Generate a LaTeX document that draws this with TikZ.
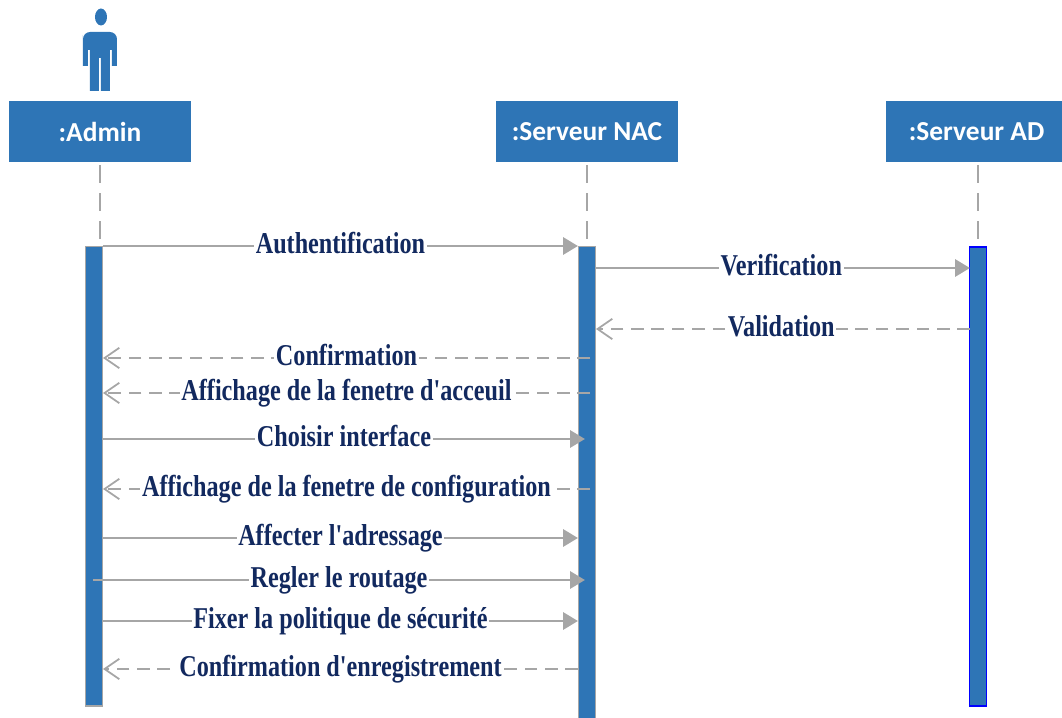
\documentclass[tikz,border=0pt]{standalone}
\usepackage{fontspec}
\usetikzlibrary{arrows.meta}
\setmainfont{Liberation Serif}
\newfontfamily\headfont{Carlito}
\newfontfamily\msgfont[FakeStretch=0.8]{Liberation Serif}
\definecolor{umlblue}{HTML}{2E75B6}
\definecolor{umlgray}{HTML}{A6A6A6}
\definecolor{umlnavy}{HTML}{12295F}
\tikzset{
	head/.style={fill=umlblue,text=white,inner sep=0,font=\headfont\bfseries\fontsize{7.8}{9}\selectfont,minimum height=0.6cm},
	bar/.style={fill=umlblue,draw=umlgray,line width=0.4pt,inner sep=0,minimum width=0.17cm,anchor=north},
	life/.style={draw=umlgray,line width=0.5pt,dash pattern=on 5pt off 3pt},
	call/.style={draw=umlgray,line width=0.8pt,-{Triangle[length=4.2pt,width=4.8pt]}},
	back/.style={draw=umlgray,line width=0.7pt,dash pattern=on 3.6pt off 2.2pt,-{Straight Barb[length=4.2pt,width=5.8pt,line width=0.5pt]}},
	msg/.style={midway,fill=white,inner xsep=0.5pt,inner ysep=0,text height=6.5pt,text depth=2pt,text=umlnavy,font=\msgfont\bfseries\fontsize{8.6}{9}\selectfont}
}
\begin{document}
\begin{tikzpicture}[x=0.01cm,y=-0.01cm]
	\useasboundingbox (0,0) rectangle (1062,718);
	% actor
	\fill[umlblue] (101,17) ellipse (6 and 8.5);
	\fill[umlblue] (83,66) -- (83,35) [rounded corners=2] -- (83,32) -- (117,32) [sharp corners] -- (117,66) -- (112,66) -- (112,50) -- (110,50) -- (110,91) -- (101,91) -- (101,58) -- (99,58) -- (99,91) -- (90,91) -- (90,50) -- (88,50) -- (88,66) -- cycle;
	% headers
	\node[head,minimum width=1.82cm] (admin) at (100,131.5) {:Admin};
	\node[head,minimum width=1.82cm] (nac) at (587,131.5) {:Serveur NAC};
	\node[head,minimum width=1.76cm] (ad) at (974,131.5) {\hspace*{1.5pt}:Serveur AD};
	% activation bars
	\node[bar,minimum height=4.59cm] (adminbar) at (94,246) {};
	\node[bar,minimum height=4.74cm] (nacbar) at (587,246) {};
	\node[bar,minimum height=4.59cm,draw=blue,line width=0.45pt] (adbar) at (978,246) {};
	% lifelines
	\draw[life] (admin.south) ++(0,3) coordinate (adminl) (adminl) -- (adminl |- adminbar.north);
	\draw[life] (nac.south) ++(0,3) coordinate (nacl) (nacl) -- (nacl |- nacbar.north);
	\draw[life] (978,165) coordinate (adl) (adl) -- (adl |- adbar.north);
	% end points of the messages
	\coordinate (a1) at (103,246); \coordinate (n1) at (578,246);
	\coordinate (n2) at (596,268); \coordinate (d2) at (970,268);
	\coordinate (d3) at (970,329); \coordinate (n3) at (596,329);
	\coordinate (n4) at (590,358); \coordinate (a4) at (103,358);
	\coordinate (n5) at (590,393); \coordinate (a5) at (103,393);
	\coordinate (a6) at (103,439); \coordinate (n6) at (585,439);
	\coordinate (n7) at (590,489); \coordinate (a7) at (103,489);
	\coordinate (a8) at (103,538); \coordinate (n8) at (578,538);
	\coordinate (a9) at (93,580); \coordinate (n9) at (585,580);
	\coordinate (a10) at (103,621); \coordinate (n10) at (578,621);
	\coordinate (n11) at (578,669); \coordinate (a11) at (103,669);
	% messages
	\draw[call] (a1) -- node[msg] (m1) {Authentification} (n1);
	\draw[call] (n2) -- node[msg,xshift=-0.5pt] (m2) {Verification} (d2);
	\draw[back] (d3) -- node[msg,xshift=-0.5pt] (m3) {Validation} (n3);
	\draw[back] (n4) -- node[msg] (m4) {Confirmation} (a4);
	\draw[back] (n5) -- node[msg] (m5) {Affichage de la fenetre d'acceuil} (a5);
	\draw[call] (a6) -- node[msg] (m6) {Choisir interface} (n6);
	\draw[back] (n7) -- node[msg] (m7) {Affichage de la fenetre de configuration} (a7);
	\draw[call] (a8) -- node[msg] (m8) {Affecter l'adressage} (n8);
	\draw[call] (a9) -- node[msg] (m9) {Regler le routage} (n9);
	\draw[call] (a10) -- node[msg] (m10) {Fixer la politique de sécurité} (n10);
	\draw[back] (n11) -- node[msg] (m11) {Confirmation d'enregistrement} (a11);
\end{tikzpicture}
\end{document}
